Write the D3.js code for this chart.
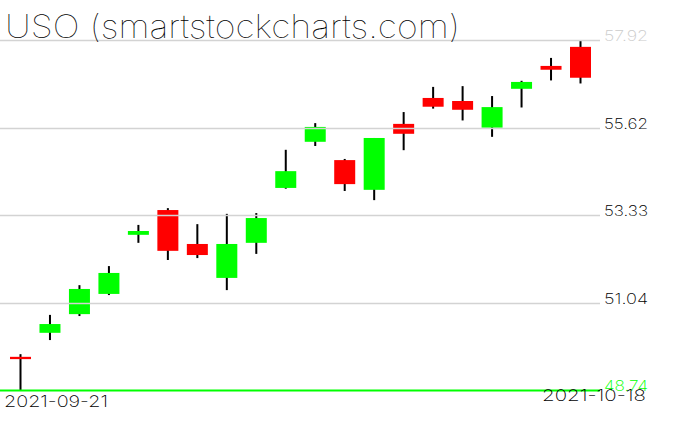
<!DOCTYPE html>
<html>
<head>
<meta charset="utf-8">
<script src="https://cdn.jsdelivr.net/npm/d3@7"></script>
<style>
  html, body { margin: 0; padding: 0; background: #fff; }
  svg { display: block; }
</style>
</head>
<body>
<svg id="chart" width="676" height="431"></svg>
<script>
const dates = ["2021-09-21","2021-09-22","2021-09-23","2021-09-24","2021-09-27","2021-09-28","2021-09-29","2021-09-30","2021-10-01","2021-10-04","2021-10-05","2021-10-06","2021-10-07","2021-10-08","2021-10-11","2021-10-12","2021-10-13","2021-10-14","2021-10-15","2021-10-18"];
const openV  = [49.61,50.24,50.73,51.26,52.81,53.46,52.57,51.68,52.60,54.04,55.25,54.77,53.99,55.72,56.40,56.32,55.62,56.64,57.24,57.74];
const highV  = [49.68,50.71,51.49,51.99,53.07,53.51,53.09,53.36,53.38,55.04,55.74,54.80,55.35,56.03,56.69,56.71,56.45,56.85,57.45,57.92];
const lowV   = [48.74,50.05,50.68,51.23,52.60,52.15,52.20,51.36,52.31,54.02,55.14,53.96,53.72,55.03,56.12,55.81,55.38,56.15,56.86,56.78];
const closeV = [49.55,50.47,51.39,51.81,52.91,52.39,52.28,52.57,53.25,54.48,55.64,54.14,55.35,55.46,56.17,56.09,56.16,56.82,57.14,56.93];
const tickValues = [48.74, 51.035, 53.33, 55.625, 57.92];
const tickLabels = ["48.74","51.04","53.33","55.62","57.92"];
const titleText = "USO (smartstockcharts.com)";

const svg = d3.select("#chart");
const data = dates.map((d, i) => ({date: d, o: openV[i], h: highV[i], l: lowV[i], c: closeV[i]}));

const y = d3.scaleLinear().domain([48.74, 57.92]).range([390, 40]);
const x = d3.scalePoint().domain(dates).range([20.5, 580.5]);
const bodyW = 21;

// wicks
svg.append("g").selectAll("rect").data(data).join("rect")
  .attr("x", d => x(d.date) - 1)
  .attr("width", 2)
  .attr("y", d => y(d.h))
  .attr("height", d => Math.max(1, y(d.l) - y(d.h)))
  .attr("fill", "#000");

// bodies
svg.append("g").selectAll("rect").data(data).join("rect")
  .attr("x", d => x(d.date) - bodyW / 2)
  .attr("width", bodyW)
  .attr("y", d => y(Math.max(d.o, d.c)))
  .attr("height", d => Math.max(2, Math.abs(y(d.o) - y(d.c))))
  .attr("fill", d => d.c >= d.o ? "#00ff00" : "#ff0000");

// gridlines (drawn over candles)
const grid = svg.append("g");
tickValues.forEach((v, i) => {
  const yy = Math.round(y(v)) + 0.5;
  grid.append("line")
    .attr("x1", 0).attr("x2", 600)
    .attr("y1", yy).attr("y2", yy)
    .attr("stroke", i === 0 ? "#00ff00" : "#d3d3d3")
    .attr("stroke-width", i === 0 ? 2 : 1.5);
  grid.append("text")
    .attr("x", 604)
    .attr("y", yy + 0.5)
    .attr("font-family", "Inter, 'DejaVu Sans Mono', sans-serif")
    .attr("font-weight", 200)
    .attr("font-size", 14.7)
    .attr("textLength", 44)
    .attr("lengthAdjust", "spacingAndGlyphs")
    .attr("fill", i === 0 ? "#00ff00" : (i === tickValues.length - 1 ? "#cccccc" : "#000"))
    .text(tickLabels[i]);
});

// date labels
svg.append("text")
  .attr("x", 4).attr("y", 406.5)
  .attr("font-family", "Inter, 'DejaVu Sans Mono', sans-serif")
  .attr("font-weight", 200)
  .attr("font-size", 15.5)
  .attr("textLength", 104)
  .attr("lengthAdjust", "spacingAndGlyphs")
  .attr("fill", "#000")
  .text(dates[0]);
svg.append("text")
  .attr("x", 542).attr("y", 401)
  .attr("font-family", "Inter, 'DejaVu Sans Mono', sans-serif")
  .attr("font-weight", 200)
  .attr("font-size", 15.5)
  .attr("textLength", 104)
  .attr("lengthAdjust", "spacingAndGlyphs")
  .attr("fill", "#000")
  .text(dates[dates.length - 1]);

// title
svg.append("text")
  .attr("x", 5).attr("y", 37.5)
  .attr("font-family", "Inter, 'DejaVu Sans', sans-serif")
  .attr("font-weight", 100)
  .attr("font-size", 32)
  .attr("textLength", 455)
  .attr("lengthAdjust", "spacingAndGlyphs")
  .attr("fill", "#000")
  .text(titleText);
</script>
</body>
</html>
